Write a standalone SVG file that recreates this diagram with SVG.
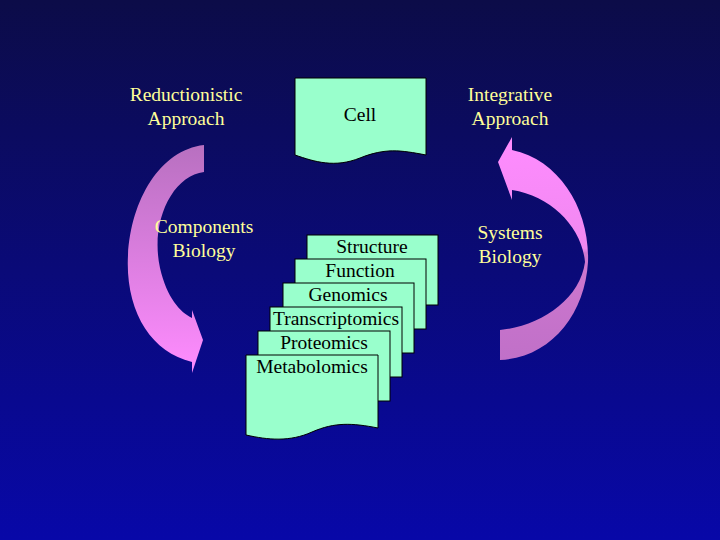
<svg xmlns="http://www.w3.org/2000/svg" width="720" height="540" viewBox="0 0 720 540">
<defs>
<linearGradient id="bg" x1="0" y1="0" x2="0" y2="1"><stop offset="0" stop-color="#0c0c48"/><stop offset="1" stop-color="#0808a8"/></linearGradient>
<linearGradient id="la" x1="0" y1="0" x2="0" y2="1"><stop offset="0" stop-color="#b870c0"/><stop offset="1" stop-color="#ff8cff"/></linearGradient>
<linearGradient id="ra" x1="0" y1="0" x2="0" y2="1"><stop offset="0" stop-color="#ff8cff"/><stop offset="0.5" stop-color="#f088f0"/><stop offset="0.52" stop-color="#cf78cf"/><stop offset="1" stop-color="#c070c8"/></linearGradient>
<style>
.y{font-family:"Liberation Serif",serif;font-size:19.5px;fill:#ffff99;text-anchor:middle}
.k{font-family:"Liberation Serif",serif;font-size:19.5px;fill:#000;text-anchor:middle}
.d{fill:#99ffcc;stroke:#000;stroke-width:1}
</style>
</defs>
<rect width="720" height="540" fill="url(#bg)"/>
<g id="connectors">
<path d="M204,145 L204,172 C172,176 150,222 160,268 C167,298 180,312 192,318 L192,310 L203,340 L192,373 L192,362 C150,352 125,310 128,255 C131,200 160,150 204,145 Z" fill="url(#la)"/>
<path d="M512,137 L512,150 C560,160 590,210 588,262 C585,315 550,358 500,360 L500,330 C540,326 580,300 585,262 C582,228 552,196 512,190 L512,200 L498,162 Z" fill="url(#ra)"/>
</g>
<g id="labels">
<text class="y" x="186" y="101">Reductionistic</text><text class="y" x="186" y="125">Approach</text>
<text class="y" x="510" y="101">Integrative</text><text class="y" x="510" y="125">Approach</text>
<text class="y" x="204" y="233">Components</text><text class="y" x="204" y="257">Biology</text>
<text class="y" x="510" y="239">Systems</text><text class="y" x="510" y="263">Biology</text>
</g>
<g id="cell"><path class="d" d="M295,78 H426 V155 C400,150 385,148 360,158 C335,168 315,162 295,155 Z"/><text class="k" x="360" y="121">Cell</text></g>
<g id="structure"><rect class="d" x="307" y="235" width="131" height="70"/><text class="k" x="372" y="253">Structure</text></g>
<g id="function"><rect class="d" x="295" y="259" width="131" height="70"/><text class="k" x="360" y="277">Function</text></g>
<g id="genomics"><rect class="d" x="283" y="283" width="131" height="70"/><text class="k" x="348" y="301">Genomics</text></g>
<g id="transcriptomics"><rect class="d" x="270" y="307" width="132" height="70"/><text class="k" x="336" y="325">Transcriptomics</text></g>
<g id="proteomics"><rect class="d" x="258" y="331" width="132" height="70"/><text class="k" x="324" y="349">Proteomics</text></g>
<g id="metabolomics"><path class="d" d="M246,355 H378 V428 C352,423 335,422 312,432 C290,442 268,440 246,435 Z"/><text class="k" x="312" y="373">Metabolomics</text></g>
</svg>
